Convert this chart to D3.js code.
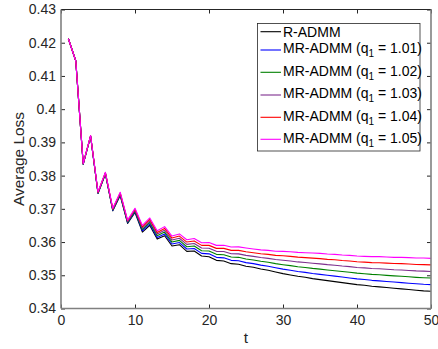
<!DOCTYPE html>
<html>
<head>
<meta charset="utf-8">
<script src="https://cdn.jsdelivr.net/npm/d3@7"></script>
<style>
  body { margin: 0; background: #fff; }
  svg { display: block; font-family: "Liberation Sans", Arial, Helvetica, sans-serif; }
</style>
</head>
<body>
<svg id="chart"></svg>
<script>
// iterations
var tValues = d3.range(1, 51);

// average loss per series, t = 1..50
var rAdmm = [.4212,.4145,.3834,.3918,.3746,.3805,.3694,.3740,.3656,.3689,
  .3630,.3650,.3609,.3619,.3588,.3592,.3572,.3573,.3558,.3556,
  .3545,.3543,.3535,.3533,.3527,.3524,.3519,.3515,.3510,.3505,
  .3501,.3497,.3494,.3490,.3487,.3484,.3481,.3478,.3475,.3472,
  .3470,.3467,.3465,.3463,.3461,.3459,.3457,.3455,.3453,.3452];
var mr101 = [.4212,.4145,.38345,.39185,.3747,.3806,.36955,.3742,.3658,.36915,
  .3634,.36545,.3614,.36245,.3594,.35985,.3579,.35805,.3566,.35645,
  .3554,.35525,.3545,.35435,.3538,.3535,.35305,.3527,.35225,.35184,
  .3515,.35114,.35088,.35054,.35028,.3500,.34974,.34946,.3492,.34892,
  .34874,.34848,.34832,.34814,.34796,.3478,.34762,.34744,.34728,.34718];
var mr102 = [.4212,.4145,.3835,.3919,.3748,.3807,.3697,.3744,.3660,.3694,
  .3638,.3659,.3619,.3630,.3600,.3605,.3586,.3588,.3574,.3573,
  .3563,.3562,.3555,.3554,.3549,.3546,.3542,.3539,.3535,.35318,
  .3529,.35258,.35236,.35208,.35186,.3516,.35138,.35112,.3509,.35064,
  .35048,.35026,.35014,.34998,.34982,.3497,.34954,.34938,.34926,.34916];
var mr103 = [.4212,.4145,.38355,.39195,.3749,.3808,.36985,.3746,.3662,.36965,
  .3642,.36635,.3624,.36355,.3606,.36115,.3593,.35955,.3582,.35815,
  .3572,.35715,.3565,.35645,.3560,.3557,.35535,.3551,.35475,.35452,
  .3543,.35402,.35384,.35362,.35344,.3532,.35302,.35278,.3526,.35236,
  .35222,.35204,.35196,.35182,.35168,.3516,.35146,.35132,.35124,.35114];
var mr104 = [.4212,.4145,.3836,.3920,.3750,.3809,.3700,.3748,.3664,.3699,
  .3646,.3668,.3629,.3641,.3612,.3618,.3600,.3603,.3590,.3590,
  .3581,.3581,.3575,.3575,.3571,.3568,.3565,.3563,.3560,.35586,
  .3557,.35546,.35532,.35516,.35502,.3548,.35466,.35444,.3543,.35408,
  .35396,.35382,.35378,.35366,.35354,.3535,.35338,.35326,.35322,.35312];
var mr105 = [.4212,.4145,.38365,.39205,.3751,.3810,.37015,.3750,.3666,.37015,
  .3650,.36725,.3634,.36465,.3618,.36245,.3607,.36105,.3598,.35985,
  .3590,.35905,.3585,.35855,.3582,.3579,.35765,.3575,.35725,.3572,
  .3571,.3569,.3568,.3567,.3566,.3564,.3563,.3561,.3560,.3558,
  .3557,.3556,.3556,.3555,.3554,.3554,.3553,.3552,.3552,.3551];

var seriesNames = ["R-ADMM", "MR-ADMM", "MR-ADMM", "MR-ADMM", "MR-ADMM", "MR-ADMM"];
var qValues = [null, "1.01", "1.02", "1.03", "1.04", "1.05"];
var seriesColors = ["#000000", "#0000ff", "#008000", "#7e2f8e", "#ff0000", "#ff00ff"];
var seriesData = [rAdmm, mr101, mr102, mr103, mr104, mr105];

var xTicks = [0, 10, 20, 30, 40, 50];
var yTicks = [0.34, 0.35, 0.36, 0.37, 0.38, 0.39, 0.40, 0.41, 0.42, 0.43];

var width = 438, height = 349;
var plotL = 61, plotR = 431, plotT = 9.5, plotB = 308.5;

var svg = d3.select("#chart").attr("width", width).attr("height", height);

var x = d3.scaleLinear().domain([0, 50]).range([plotL, plotR]);
var y = d3.scaleLinear().domain([0.34, 0.43]).range([plotB, plotT]);

var fmtY = function(d) { return d3.format(".2f")(d).replace(/0$/, "").replace(/\.$/, ""); };

// bottom axis
svg.append("g")
  .attr("transform", "translate(0," + plotB + ")")
  .call(d3.axisBottom(x).tickValues(xTicks).tickSizeInner(-4).tickSizeOuter(0).tickPadding(7));
// top ticks
svg.append("g")
  .attr("transform", "translate(0," + plotT + ")")
  .call(d3.axisTop(x).tickValues(xTicks).tickSizeInner(-4).tickSizeOuter(0).tickFormat(""));
// left axis
svg.append("g")
  .attr("transform", "translate(" + plotL + ",0)")
  .call(d3.axisLeft(y).tickValues(yTicks).tickSizeInner(-4).tickSizeOuter(0).tickPadding(5).tickFormat(fmtY));
// right ticks
svg.append("g")
  .attr("transform", "translate(" + plotR + ",0)")
  .call(d3.axisRight(y).tickValues(yTicks).tickSizeInner(-4).tickSizeOuter(0).tickFormat(""));

svg.selectAll(".domain").remove();
svg.selectAll(".tick line").attr("stroke", "#262626").attr("stroke-width", 1);
svg.selectAll(".tick text").attr("fill", "#262626").style("font-size", "14px")
  .style("font-family", "'Liberation Sans', Arial, sans-serif");

// plot lines
var line = d3.line()
  .x(function(d, i) { return x(tValues[i]); })
  .y(function(d) { return y(d); });

seriesData.forEach(function(s, i) {
  svg.append("path")
    .datum(s)
    .attr("fill", "none")
    .attr("stroke", seriesColors[i])
    .attr("stroke-width", 1.1)
    .attr("stroke-linejoin", "round")
    .attr("d", line);
});

// axes box
svg.append("line").attr("x1", plotL).attr("x2", plotR).attr("y1", plotT).attr("y2", plotT)
  .attr("stroke", "#262626").attr("stroke-width", 1);
svg.append("line").attr("x1", plotL).attr("x2", plotL).attr("y1", plotT).attr("y2", plotB)
  .attr("stroke", "#808080").attr("stroke-width", 1.6);
svg.append("line").attr("x1", plotR).attr("x2", plotR).attr("y1", plotT).attr("y2", plotB)
  .attr("stroke", "#808080").attr("stroke-width", 1.6);
svg.append("line").attr("x1", plotL).attr("x2", plotR).attr("y1", plotB).attr("y2", plotB)
  .attr("stroke", "#808080").attr("stroke-width", 1.6);

// axis labels
svg.append("text")
  .attr("x", (plotL + plotR) / 2)
  .attr("y", 343)
  .attr("text-anchor", "middle")
  .attr("fill", "#262626")
  .style("font-size", "15.4px")
  .text("t");

svg.append("text")
  .attr("transform", "rotate(-90)")
  .attr("x", -(plotT + plotB) / 2)
  .attr("y", 24)
  .attr("text-anchor", "middle")
  .attr("fill", "#262626")
  .style("font-size", "15.4px")
  .text("Average Loss");

// legend
var legend = svg.append("g");
legend.append("rect")
  .attr("x", 257.5).attr("y", 23.5)
  .attr("width", 162.5).attr("height", 127.5)
  .attr("fill", "#fff")
  .attr("stroke", "#262626")
  .attr("stroke-width", 0.8);

var lineYs = [31.7, 50, 72.3, 95, 117.3, 139.3];
var textYs = [36.7, 53.3, 75.7, 98.3, 120.7, 143];

seriesNames.forEach(function(name, i) {
  legend.append("line")
    .attr("x1", 260.5).attr("x2", 281)
    .attr("y1", lineYs[i]).attr("y2", lineYs[i])
    .attr("stroke", seriesColors[i])
    .attr("stroke-width", 1.1);
  var t = legend.append("text")
    .attr("x", 283)
    .attr("y", textYs[i])
    .attr("fill", "#000")
    .style("font-size", "14px");
  if (qValues[i] == null) {
    t.text(name);
  } else {
    t.append("tspan").text(name + " (q");
    t.append("tspan").attr("dy", 4).style("font-size", "10px").text("1");
    t.append("tspan").attr("dy", -4).text(" = " + qValues[i] + ")");
  }
});
</script>
</body>
</html>
